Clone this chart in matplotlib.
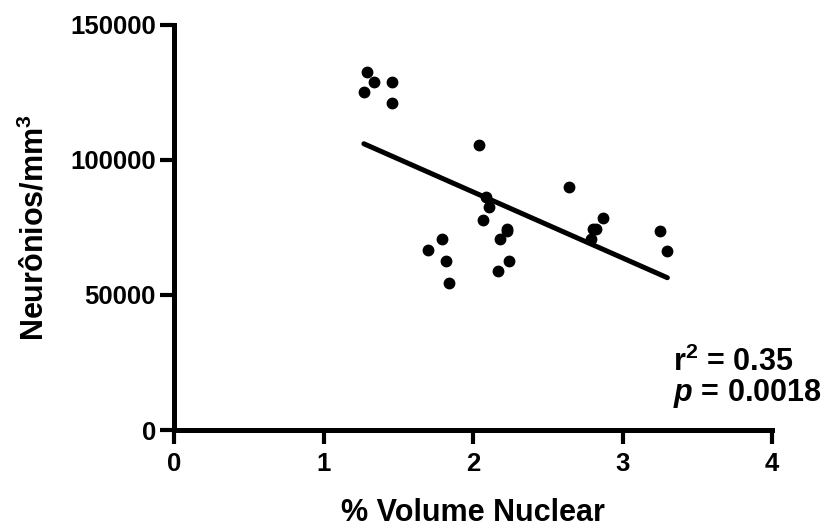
import matplotlib
matplotlib.use("Agg")
import matplotlib.pyplot as plt
import numpy as np

# valores
volume_nuclear = [1.29, 1.34, 1.46, 1.27, 1.46, 2.04, 2.09, 2.11, 2.07, 2.23, 2.23,
                  2.18, 1.79, 1.70, 1.82, 2.24, 2.17, 1.84, 2.64, 2.87, 2.80, 2.82,
                  2.79, 3.25, 3.30]
neuronios = [132700, 128800, 128800, 125100, 121000, 105600, 86200, 82700, 77800,
             74400, 73700, 70600, 70600, 66700, 62700, 62600, 59000, 54600, 90100,
             78400, 74300, 74300, 70600, 73800, 66400]
x_ticks = [0, 1, 2, 3, 4]
y_ticks = [0, 50000, 100000, 150000]

plt.rcParams['font.family'] = ['Liberation Sans', 'DejaVu Sans']
plt.rcParams['font.weight'] = 'bold'
plt.rcParams['mathtext.fontset'] = 'custom'
plt.rcParams['mathtext.rm'] = 'Liberation Sans:bold'
plt.rcParams['mathtext.it'] = 'Liberation Sans:bold:italic'
plt.rcParams['mathtext.bf'] = 'Liberation Sans:bold'

fig = plt.figure(figsize=(8.38, 5.27), dpi=100)
ax = fig.add_axes([174 / 838, 1 - 430 / 527, (772 - 174) / 838, (430 - 25) / 527])

x = np.array(volume_nuclear)
y = np.array(neuronios)
ax.plot(x, y, 'o', color='black', markersize=7.5, clip_on=False)

# reta de regressao
coef = np.polyfit(x, y, 1)
xl = np.array([x.min(), x.max()])
ax.plot(xl, np.polyval(coef, xl), color='black', linewidth=3.6, solid_capstyle='round')

ax.set_xlim(0, 4)
ax.set_ylim(0, 150000)
ax.set_xticks(x_ticks)
ax.set_yticks(y_ticks)
ax.set_xticklabels([str(t) for t in x_ticks])
ax.set_yticklabels([str(t) for t in y_ticks])

for s in ['top', 'right']:
    ax.spines[s].set_visible(False)
for s in ['left', 'bottom']:
    ax.spines[s].set_linewidth(3.6)
    ax.spines[s].set_capstyle('projecting')
ax.tick_params(width=3, length=10, labelsize=18.5)
ax.tick_params(axis='x', pad=6)
ax.tick_params(axis='y', pad=3)

ax.set_xlabel('% Volume Nuclear', fontsize=22, fontweight='bold')
ax.set_ylabel('Neurônios/mm$^{3}$', fontsize=22, fontweight='bold')
ax.xaxis.label.set_va('baseline')
ax.yaxis.label.set_va('baseline')
ax.xaxis.set_label_coords(0.5, (430 - 521) / 405)
ax.yaxis.set_label_coords((44 - 174) / 598, 0.5)

fig.text(673 / 838, 1 - 371 / 527, 'r$^{2}$ = 0.35', fontsize=22, fontweight='bold')
fig.text(673 / 838, 1 - 401 / 527, '$p$ = 0.0018', fontsize=22, fontweight='bold')

fig.savefig('out.png', dpi=100)
